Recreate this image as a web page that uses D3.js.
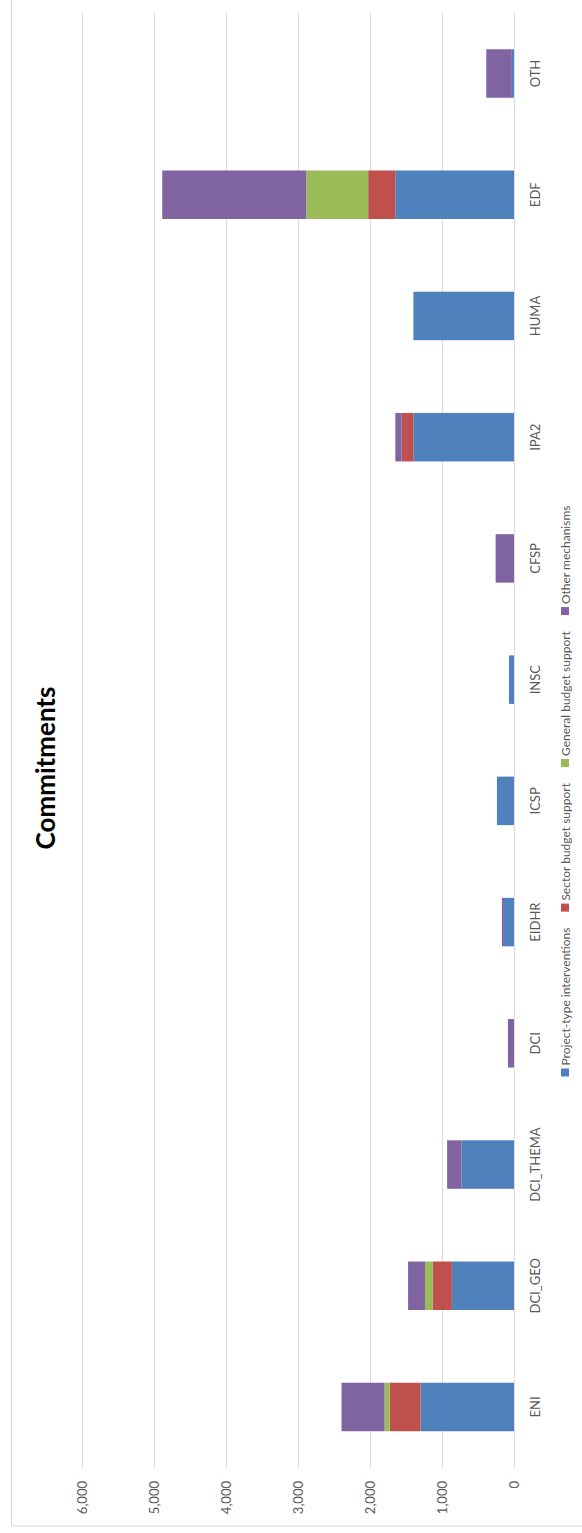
<!DOCTYPE html>
<html>
<head>
<meta charset="utf-8">
<script src="https://cdn.jsdelivr.net/npm/d3@7"></script>
<style>
  html, body { margin: 0; padding: 0; background: #ffffff; }
  svg { display: block; }
  text { font-family: Lato, "Open Sans", sans-serif; }
</style>
</head>
<body>
<svg id="chart" width="582" height="1533"></svg>
<script>
// Commitments by instrument, split by aid modality
const categories = ["ENI", "DCI_GEO", "DCI_THEMA", "DCI", "EIDHR", "ICSP", "INSC", "CFSP", "IPA2", "HUMA", "EDF", "OTH"];
const seriesNames = ["Project-type interventions", "Sector budget support", "General budget support", "Other mechanisms"];
const projectType = [1298, 862, 729, 0, 140, 237, 70, 0, 1397, 1396, 1648, 30];
const sectorBudget = [427, 268, 0, 0, 0, 0, 0, 0, 162, 0, 376, 0];
const generalBudget = [72, 104, 0, 0, 0, 0, 0, 0, 0, 0, 860, 0];
const otherMech = [597, 236, 199, 84, 28, 0, 0, 255, 88, 0, 1998, 355];
const valueTicks = [0, 1000, 2000, 3000, 4000, 5000, 6000];
const colors = ["#4F81BD", "#C0504D", "#9BBB59", "#8064A2"];

const W = 1533, H = 582; // chart drawn in landscape, then turned a quarter
const svg = d3.select("#chart");

// outer chart frame
svg.append("rect")
  .attr("x", 11.5).attr("y", -2).attr("width", 580).attr("height", 1528)
  .attr("fill", "none").attr("stroke", "#D9D9D9").attr("stroke-width", 1);

const g = svg.append("g").attr("transform", `translate(0,${W}) rotate(-90)`);

const rows = categories.map((c, i) => ({
  cat: c,
  [seriesNames[0]]: projectType[i],
  [seriesNames[1]]: sectorBudget[i],
  [seriesNames[2]]: generalBudget[i],
  [seriesNames[3]]: otherMech[i]
}));

const x = d3.scaleBand().domain(categories).range([65.4, 1520.1])
  .paddingInner(0.6).paddingOuter(0.3);
const y = d3.scaleLinear().domain([0, 6000]).range([514, 81.7]);

// gridlines
g.append("g").selectAll("line").data(valueTicks).join("line")
  .attr("x1", 65.4).attr("x2", 1520.1)
  .attr("y1", d => Math.round(y(d)) + 0.5).attr("y2", d => Math.round(y(d)) + 0.5)
  .attr("stroke", "#DCDCDC").attr("stroke-width", 1);

// value axis labels
const fmt = d3.format(",");
g.append("g").selectAll("text").data(valueTicks).join("text")
  .attr("x", 52).attr("y", d => y(d))
  .attr("text-anchor", "end").attr("dominant-baseline", "central")
  .attr("font-size", 13).attr("fill", "#595959")
  .text(d => fmt(d));

// stacked bars
const stack = d3.stack().keys(seriesNames);
const layers = stack(rows);
g.append("g").selectAll("g").data(layers).join("g")
  .attr("fill", (d, i) => colors[i])
  .selectAll("rect").data(d => d).join("rect")
  .attr("x", d => x(d.data.cat))
  .attr("width", x.bandwidth())
  .attr("y", d => y(d[1]))
  .attr("height", d => y(d[0]) - y(d[1]));

// category axis labels
g.append("g").selectAll("text").data(categories).join("text")
  .attr("x", d => x(d) + x.bandwidth() / 2).attr("y", 535)
  .attr("text-anchor", "middle").attr("dominant-baseline", "central")
  .attr("font-size", 13).attr("fill", "#595959")
  .text(d => d);

// title
g.append("text")
  .attr("x", 765).attr("y", 45)
  .attr("text-anchor", "middle").attr("dominant-baseline", "central")
  .attr("font-size", 26).attr("font-weight", "bold").attr("fill", "#000")
  .text("Commitments");

// legend, laid out left to right and centred
const legend = g.append("g");
const items = legend.selectAll("g").data(seriesNames).join("g");
items.append("rect").attr("width", 8).attr("height", 8).attr("y", -4)
  .attr("fill", (d, i) => colors[i]);
items.append("text").attr("x", 11).attr("y", 0)
  .attr("dominant-baseline", "central")
  .attr("font-size", 12).attr("fill", "#595959")
  .text(d => d);
let cursor = 0;
const gap = 16;
items.each(function () {
  const w = 11 + this.querySelector("text").getComputedTextLength();
  d3.select(this).attr("transform", `translate(${cursor},0)`);
  cursor += w + gap;
});
const total = cursor - gap;
legend.attr("transform", `translate(${742 - total / 2},565)`);
</script>
</body>
</html>
